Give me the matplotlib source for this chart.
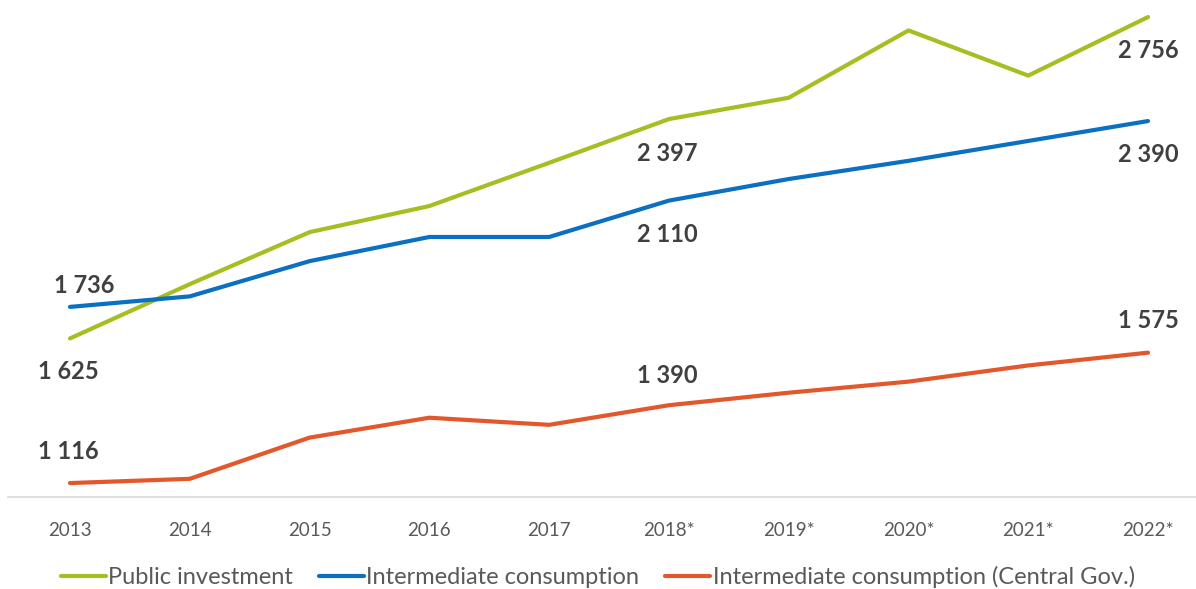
import matplotlib
matplotlib.use("Agg")
import matplotlib.pyplot as plt

years = ["2013", "2014", "2015", "2016", "2017", "2018*", "2019*", "2020*", "2021*", "2022*"]
public_investment = [1625, 1816, 1999, 2091, 2243, 2397, 2472, 2709, 2550, 2756]
intermediate_consumption = [1736, 1773, 1897, 1982, 1982, 2110, 2186, 2250, 2320, 2390]
intermediate_central = [1116, 1131, 1276, 1346, 1321, 1390, 1434, 1473, 1530, 1575]
series_names = ["Public investment", "Intermediate consumption",
                "Intermediate consumption (Central Gov.)"]
colors = ["#a5bf22", "#0b70c2", "#e2572b"]

plt.rcParams['font.family'] = ['Lato', 'DejaVu Sans']

W, H = 1196, 589
fig = plt.figure(figsize=(W / 100, H / 100), dpi=100)
left_px, right_px, bottom_px, top_px = 8, 1196, 497, 0
ax = fig.add_axes([left_px / W, 1 - bottom_px / H, (right_px - left_px) / W, (bottom_px - top_px) / H])

x = list(range(len(years)))
step = 119.78
ax.set_xlim(-(70 - left_px) / step, (right_px - 70) / step)
ax.set_ylim(1067, 2816)

lines = []
for vals, c, name in zip([public_investment, intermediate_consumption, intermediate_central], colors, series_names):
    ln, = ax.plot(x, vals, color=c, lw=3.0, solid_capstyle='round', solid_joinstyle='round', label=name)
    lines.append(ln)

lab_kw = dict(fontsize=17, fontweight='bold', color='#404040', ha='center', va='center')
# (series, index, pixel offset: positive = above)
label_specs = [
    (public_investment, 0, -33, -2), (public_investment, 5, -34, -2), (public_investment, 9, -33, 0),
    (intermediate_consumption, 0, 21, 14), (intermediate_consumption, 5, -34, -2), (intermediate_consumption, 9, -33, 0),
    (intermediate_central, 0, 32, -2), (intermediate_central, 5, 30, -2), (intermediate_central, 9, 32, 0),
]
for vals, i, dy, dx in label_specs:
    txt = f"{vals[i]:,}".replace(",", " ")
    ax.annotate(txt, (x[i], vals[i]), xytext=(dx * 0.72, dy * 0.72), textcoords='offset points', **lab_kw)

ax.set_xticks(x)
ax.set_xticklabels(years, fontsize=13.5, color='#595959')
ax.tick_params(axis='x', length=0, pad=18)
ax.set_yticks([])
for s in ['top', 'right', 'left']:
    ax.spines[s].set_visible(False)
ax.spines['bottom'].set_color('#d9d9d9')
ax.spines['bottom'].set_linewidth(1.2)
ax.patch.set_alpha(0)

fig.legend(handles=lines, loc='center', bbox_to_anchor=(0.5, 1 - 577 / H), ncol=3, frameon=False,
           fontsize=17, labelcolor='#595959', handlelength=1.9, handletextpad=0.1, columnspacing=1.1)

fig.savefig("out.png", dpi=100)
